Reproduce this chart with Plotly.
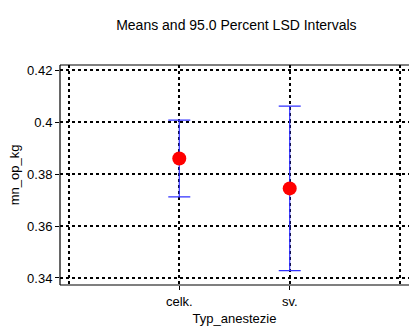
import plotly.graph_objects as go

# Group means with 95% LSD interval half-widths
groups = ["celk.", "sv."]
means = [0.3860, 0.3745]
lsd_half = [0.0148, 0.0317]

x_pos = [1, 2]
x_edge_grid = [0, 3]
y_tickvals = [0.34, 0.36, 0.38, 0.40, 0.42]
y_ticktext = ["0.34", "0.36", "0.38", "0.4", "0.42"]

font = "Liberation Sans, Arial, sans-serif"

fig = go.Figure()
fig.add_trace(go.Scatter(
    x=x_pos, y=means, mode="markers",
    marker=dict(color="#ff0000", size=14, line=dict(width=0)),
    error_y=dict(type="data", array=lsd_half, visible=True,
                 color="#3030ff", thickness=1.2, width=11),
    showlegend=False, hoverinfo="skip",
))

grid = dict(showgrid=True, gridcolor="black", gridwidth=1.5, griddash="dot",
            zeroline=False, showline=False)

fig.update_layout(
    width=409, height=331,
    margin=dict(l=60, r=0, t=65, b=46),
    paper_bgcolor="white", plot_bgcolor="white",
    font=dict(family=font, size=13, color="black"),
    title=dict(text="Means and 95.0 Percent LSD Intervals", x=0.578, xanchor="center",
               y=0.925, yanchor="middle", font=dict(size=14, family=font, color="black")),
    xaxis=dict(range=[-0.08, 3.08], tickvals=x_pos, ticktext=groups,
               ticks="outside", ticklen=4, tickcolor="black",
               minor=dict(tickvals=x_edge_grid, showgrid=True, gridcolor="black",
                          gridwidth=1.5, griddash="dot", ticks=""),
               title=dict(text="Typ_anestezie", font=dict(size=13), standoff=6),
               tickfont=dict(size=13), **grid),
    yaxis=dict(range=[0.3373, 0.4220], tickvals=y_tickvals, ticktext=y_ticktext,
               ticks="outside", ticklen=4, tickcolor="black",
               title=dict(text="mn_op_kg", font=dict(size=13), standoff=4),
               tickfont=dict(size=13), **grid),
)

# frame on left, top and bottom
for x0, y0, x1, y1 in [(0, 0, 0, 1), (0, 1, 1, 1), (0, 0, 1, 0)]:
    fig.add_shape(type="line", xref="paper", yref="paper", x0=x0, y0=y0, x1=x1, y1=y1,
                  line=dict(color="black", width=1.2), layer="above")

fig.write_html("out.html")
